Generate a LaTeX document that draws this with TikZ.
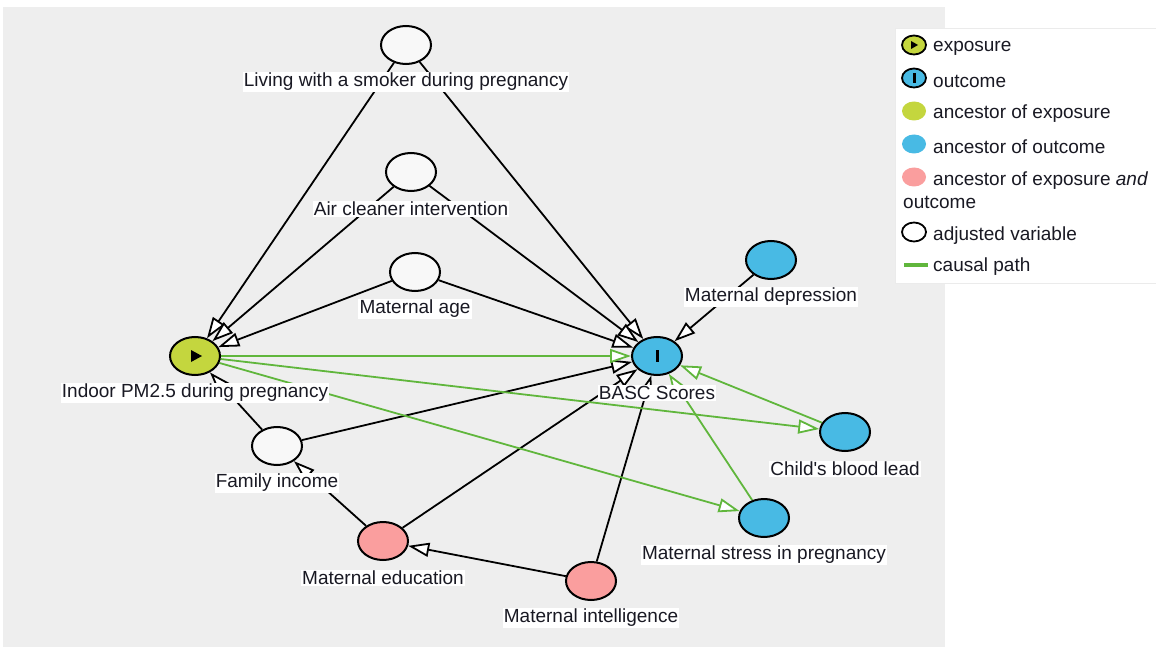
\documentclass[tikz,border=0pt]{standalone}
\usepackage{fontspec}
\setmainfont{Liberation Sans}
\usetikzlibrary{shapes.geometric,arrows.meta}
\pgfdeclarelayer{bg}
\pgfdeclarelayer{edges}
\pgfsetlayers{bg,edges,main}
\definecolor{bggray}{RGB}{238,238,238}
\definecolor{expo}{RGB}{196,214,62}
\definecolor{outc}{RGB}{72,186,228}
\definecolor{anc}{RGB}{250,158,158}
\definecolor{adjfill}{RGB}{248,248,248}
\definecolor{causal}{RGB}{96,182,60}
\definecolor{txt}{RGB}{25,25,35}
\tikzset{
  var/.style={ellipse, draw=black, line width=2pt, minimum width=50pt, minimum height=38pt, inner sep=0pt},
  adj/.style={var, fill=adjfill},
  lbl/.style={fill=white, inner sep=1.2pt, text=txt, font=\fontsize{19}{21}\selectfont},
  ledtxt/.style={anchor=west, inner sep=0pt, text=txt, font=\fontsize{19}{21}\selectfont},
  legell/.style={ellipse, minimum width=24pt, minimum height=19pt, inner sep=0pt},
  edge/.style={draw=black, line width=1.8pt, -{Triangle[fill=white, length=21pt, width=14pt]}},
  cedge/.style={draw=causal, line width=1.8pt, -{Triangle[fill=white, length=21pt, width=14pt]}},
}
\begin{document}
\begin{tikzpicture}[x=1pt,y=-1pt]
\useasboundingbox (0,0) rectangle (1156,647);
\begin{pgfonlayer}{bg}
\fill[white] (0,0) rectangle (1156,647);
\fill[bggray] (3,7) rectangle (945,647);
\filldraw[fill=white, draw=black!8] (895,28) rectangle (1156,283);
\end{pgfonlayer}

% variables
\node[adj] (smk) at (406,45) {};
\node[adj] (air) at (411,172) {};
\node[adj] (age) at (415,272) {};
\node[var, fill=expo] (exp) at (195,356) {};
\node[var, fill=outc] (out) at (657,356) {};
\node[var, fill=outc] (dep) at (771,260) {};
\node[adj] (inc) at (277,446) {};
\node[var, fill=outc] (lead) at (845,432) {};
\node[var, fill=outc] (str) at (764,518) {};
\node[var, fill=anc] (edu) at (383,541) {};
\node[var, fill=anc] (iq) at (591,581) {};

% icons
\fill[black] (191,350) -- (202,356) -- (191,362) -- cycle;
\fill[black] (655.5,350) rectangle (658.5,362);

% labels
\node[lbl] (smkL) at (406,82) {Living with a smoker during pregnancy};
\node[lbl] (airL) at (411,209) {Air cleaner intervention};
\node[lbl] (ageL) at (415,309) {Maternal age};
\node[lbl] (expL) at (195,393) {Indoor PM2.5 during pregnancy};
\node[lbl] (outL) at (657,393) {BASC Scores};
\node[lbl] (depL) at (771,297) {Maternal depression};
\node[lbl] (incL) at (277,483) {Family income};
\node[lbl] (leadL) at (845,469) {Child\textquotesingle s blood lead};
\node[lbl] (strL) at (764,555) {Maternal stress in pregnancy};
\node[lbl] (eduL) at (383,578) {Maternal education};
\node[lbl] (iqL) at (591,618) {Maternal intelligence};

% edges
\begin{pgfonlayer}{edges}
\draw[edge] (smk) -- (exp);
\draw[edge] (smk) -- (out);
\draw[edge] (air) -- (exp);
\draw[edge] (air) -- (out);
\draw[edge] (age) -- (exp);
\draw[edge] (age) -- (out);
\draw[edge] (dep) -- (out);
\draw[edge] (inc) -- (exp);
\draw[edge] (inc) -- (out);
\draw[edge] (edu) -- (inc);
\draw[edge] (edu) -- (out);
\draw[edge] (iq) -- (edu);
\draw[edge] (iq) -- (out);
\draw[cedge] (exp) -- (out);
\draw[cedge] (exp) -- (lead);
\draw[cedge] (exp) -- (str);
\draw[cedge] (lead) -- (out);
\draw[cedge] (str) -- (out);
\end{pgfonlayer}

% legend
\node[legell, draw=black, line width=1.8pt, fill=expo] (lg1) at (914,45) {};
\fill[black] (911,41) -- (918,45) -- (911,49) -- cycle;
\node[ledtxt] (lt1) at (933,48) {exposure};
\node[legell, draw=black, line width=1.8pt, fill=outc] (lg2) at (914,78) {};
\fill[black] (913,73) rectangle (915.5,83);
\node[ledtxt] (lt2) at (933,81) {outcome};
\node[legell, fill=expo] (lg3) at (914,111) {};
\node[ledtxt] (lt3) at (933,114) {ancestor of exposure};
\node[legell, fill=outc] (lg4) at (914,144) {};
\node[ledtxt] (lt4) at (933,147) {ancestor of outcome};
\node[legell, fill=anc] (lg5) at (914,177) {};
\node[ledtxt] (lt5) at (933,181) {ancestor of exposure \textit{and}};
\node[ledtxt] (lt5b) at (903,202) {outcome};
\node[legell, draw=black, line width=1.8pt, fill=white] (lg6) at (914,232) {};
\node[ledtxt] (lt6) at (933,236) {adjusted variable};
\coordinate (cpa) at (904,265);
\coordinate (cpb) at (928,265);
\draw[causal, line width=4.5pt] (cpa) -- (cpb);
\node[ledtxt] (lt7) at (933,267) {causal path};
\end{tikzpicture}
\end{document}
